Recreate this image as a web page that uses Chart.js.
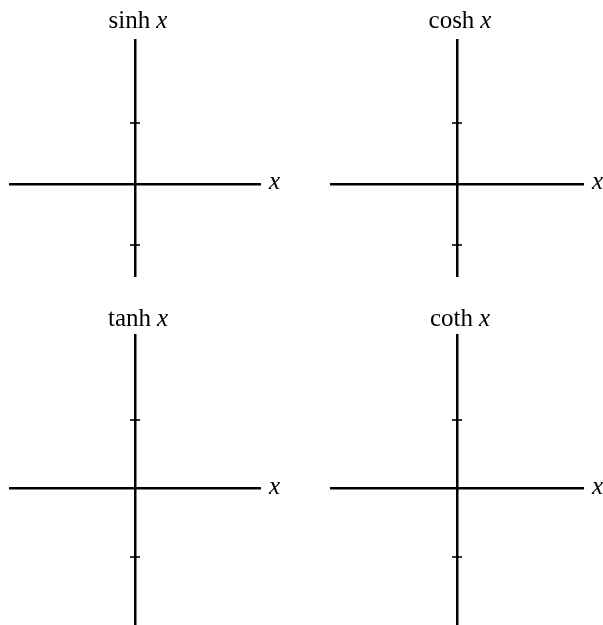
<!DOCTYPE html>
<html>
<head>
<meta charset="utf-8">
<script src="https://cdn.jsdelivr.net/npm/chart.js@4/dist/chart.umd.min.js"></script>
<style>
  html, body { margin: 0; padding: 0; background: #fff; }
  #page { position: relative; width: 603px; height: 625px; overflow: hidden; }
  .panel { position: absolute; }
  canvas { display: block; }
</style>
</head>
<body>
<div id="page">
  <div class="panel" style="left:0;top:0"><canvas id="c0" width="300" height="300"></canvas></div>
  <div class="panel" style="left:300px;top:0"><canvas id="c1" width="303" height="300"></canvas></div>
  <div class="panel" style="left:0;top:300px"><canvas id="c2" width="300" height="325"></canvas></div>
  <div class="panel" style="left:300px;top:300px"><canvas id="c3" width="303" height="325"></canvas></div>
</div>
<script>
// what each panel shows
const functionNames = ['sinh', 'cosh', 'tanh', 'coth'];
const axisVariable = 'x';
// axis ranges
const xLimits = [-2.05, 2.05];
const yLimitsTop = [-1.51, 2.36];
const yLimitsBottom = [-2, 2.25];
// marks on the vertical axis
const yTickValues = [-1, 1];

const serif = '"Liberation Serif", "DejaVu Serif", serif';

// tick marks across the y axis, the title and the "x" label
const decorations = {
  id: 'decorations',
  afterDraw(chart, args, opts) {
    const {ctx, scales: {x, y}} = chart;
    const x0 = x.getPixelForValue(0);
    const y0 = y.getPixelForValue(0);
    ctx.save();
    ctx.strokeStyle = '#000';
    ctx.lineWidth = 1.6;
    yTickValues.forEach(v => {
      const py = Math.round(y.getPixelForValue(v));
      ctx.beginPath();
      ctx.moveTo(x0 - 5, py);
      ctx.lineTo(x0 + 5, py);
      ctx.stroke();
    });

    const upright = '25px ' + serif;
    const italic = 'italic 25px ' + serif;
    ctx.fillStyle = '#000';
    ctx.textBaseline = 'alphabetic';
    ctx.font = upright;
    const w1 = ctx.measureText(opts.name).width;
    ctx.font = italic;
    const w2 = ctx.measureText(axisVariable).width;
    const gap = 6;
    const left = x0 + 3 - (w1 + gap + w2) / 2;
    ctx.font = upright;
    ctx.fillText(opts.name, left, opts.titleY);
    ctx.font = italic;
    ctx.fillText(axisVariable, left + w1 + gap, opts.titleY);

    ctx.fillText(axisVariable, x.right + 9, y0 + 5);
    ctx.restore();
  }
};

const panels = [
  {canvas: 'c0', pad: {left: 10, right: 40, top: 40, bottom: 24}, yLim: yLimitsTop, titleY: 28},
  {canvas: 'c1', pad: {left: 31, right: 20, top: 40, bottom: 24}, yLim: yLimitsTop, titleY: 28},
  {canvas: 'c2', pad: {left: 10, right: 40, top: 35, bottom: 0}, yLim: yLimitsBottom, titleY: 26},
  {canvas: 'c3', pad: {left: 31, right: 20, top: 35, bottom: 0}, yLim: yLimitsBottom, titleY: 26}
];

function axis(lim, pos) {
  return {
    type: 'linear',
    min: lim[0],
    max: lim[1],
    position: pos,
    grid: {display: false, drawTicks: false},
    ticks: {display: false},
    border: {display: true, color: '#000', width: 2.5}
  };
}

panels.forEach((p, i) => {
  new Chart(document.getElementById(p.canvas), {
    type: 'scatter',
    data: {datasets: [{data: []}]},
    options: {
      responsive: false,
      animation: false,
      events: [],
      layout: {padding: p.pad},
      scales: {
        x: axis(xLimits, {y: 0}),
        y: axis(p.yLim, {x: 0})
      },
      plugins: {
        legend: {display: false},
        tooltip: {enabled: false},
        decorations: {name: functionNames[i], titleY: p.titleY}
      }
    },
    plugins: [decorations]
  });
});
</script>
</body>
</html>
